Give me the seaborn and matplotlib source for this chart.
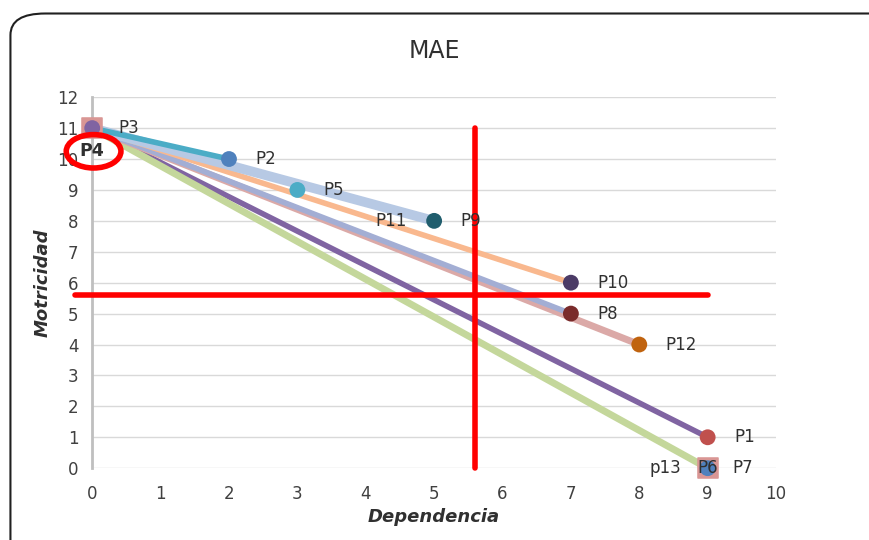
import pandas as pd
import matplotlib.pyplot as plt
import seaborn as sns
from matplotlib.patches import Ellipse, FancyBboxPatch

# =========================
# DATA
# =========================
origin = (0, 11)  # P3 / P4
seg_names = ["P1", "P6", "P12", "P8", "P10", "P9", "P2"]
seg_x = [9, 9, 8, 7, 7, 5, 2]
seg_y = [1, 0, 4, 5, 6, 8, 10]
seg_colors = ["#8064A2", "#C4D79B", "#DBA9A7", "#A3AED4", "#F9B88E", "#B7C9E4", "#4BACC6"]
seg_widths = [4, 5, 5, 4, 4, 7, 4]

pt_names = ["P3", "P2", "P5", "P9", "P10", "P8", "P12", "P1", "P6"]
pt_x = [0, 2, 3, 5, 7, 7, 8, 9, 9]
pt_y = [11, 10, 9, 8, 6, 5, 4, 1, 0]
pt_colors = ["#8064A2", "#4F81BD", "#4BACC6", "#215E6E", "#4B3B66", "#7A2B2B", "#C0630F", "#C0504D", "#4F81BD"]

square_x = [0, 9]  # P4, P7
square_y = [11, 0]

cut_x = 5.6
cut_y = 5.6

# =========================
# FIGURE
# =========================
sns.set_style("white")
plt.rcParams['font.family'] = ['DejaVu Sans']
fig = plt.figure(figsize=(8.7, 5.4), dpi=100)
fig.patches.append(FancyBboxPatch((0.012, -0.05), 1.05, 1.025,
                                  boxstyle="round,pad=0,rounding_size=0.04",
                                  transform=fig.transFigure, facecolor="white",
                                  edgecolor="#202020", linewidth=1.5, zorder=-5))
ax = fig.add_axes([0.106, 0.133, 0.786, 0.687])
ax.set_facecolor("none")

# lines from origin to each point
seg_df = pd.DataFrame({
    "name": [n for n in seg_names for _ in range(2)],
    "x": [v for x in seg_x for v in (origin[0], x)],
    "y": [v for y in seg_y for v in (origin[1], y)],
})
for name, c, w in zip(seg_names, seg_colors, seg_widths):
    sns.lineplot(data=seg_df[seg_df["name"] == name], x="x", y="y", color=c,
                 linewidth=w, sort=False, ax=ax, zorder=2, solid_capstyle="butt")

# square markers
sns.scatterplot(x=square_x, y=square_y, marker="s", s=200, color="#D99694",
                edgecolor="#D99694", ax=ax, zorder=3)

# point markers
pt_df = pd.DataFrame({"name": pt_names, "x": pt_x, "y": pt_y})
sns.scatterplot(data=pt_df, x="x", y="y", hue="name", palette=dict(zip(pt_names, pt_colors)),
                s=130, edgecolor="none", legend=False, ax=ax, zorder=4)

# cut lines
ax.plot([cut_x, cut_x], [0, 11], color="#FF0000", linewidth=4, zorder=5)
ax.plot([-0.25, 9], [cut_y, cut_y], color="#FF0000", linewidth=4, zorder=5, clip_on=False)

# labels
lab_kw = dict(fontsize=12, color="#303030", va="center", zorder=6)
for n, x, y in zip(pt_names, pt_x, pt_y):
    if n in ("P6",):
        continue
    ax.annotate(n, (x, y), xytext=(19, 0), textcoords="offset points", ha="left", **lab_kw)
ax.annotate("P11", (5, 8), xytext=(-20, 0), textcoords="offset points", ha="right", **lab_kw)
ax.annotate("P6", (9, 0), ha="center", **lab_kw)
ax.annotate("p13", (9, 0), xytext=(-19, 0), textcoords="offset points", ha="right", **lab_kw)
ax.annotate("P7", (9, 0), xytext=(18, 0), textcoords="offset points", ha="left", **lab_kw)
ax.annotate("P4", (0, 10.25), ha="center", fontsize=12.5, fontweight="bold",
            color="#303030", va="center", zorder=6, annotation_clip=False)
ax.add_patch(Ellipse((0.02, 10.25), 0.8, 1.08, fill=False, edgecolor="#FF0000",
                     linewidth=4, zorder=6, clip_on=False))

# axes
ax.set_xlim(0, 10)
ax.set_ylim(0, 12)
ax.set_xticks(range(0, 11))
ax.set_yticks(range(0, 13))
ax.grid(axis="y", color="#D9D9D9", linewidth=1)
ax.tick_params(labelsize=12, colors="#404040", length=0, pad=10)
ax.tick_params(axis="x", pad=12)
for s in ["top", "right"]:
    ax.spines[s].set_visible(False)
ax.spines["left"].set_color("#BFBFBF")
ax.spines["left"].set_linewidth(2)
ax.spines["bottom"].set_visible(False)
ax.set_xlabel("Dependencia", fontsize=13, fontstyle="italic", fontweight="bold", color="#303030")
ax.set_ylabel("Motricidad", fontsize=13, fontstyle="italic", fontweight="bold", color="#303030")
ax.set_title("MAE", fontsize=17, color="#303030", pad=28)
for art in ax.collections + ax.lines:
    art.set_clip_on(False)

fig.savefig("out.png", dpi=100)
